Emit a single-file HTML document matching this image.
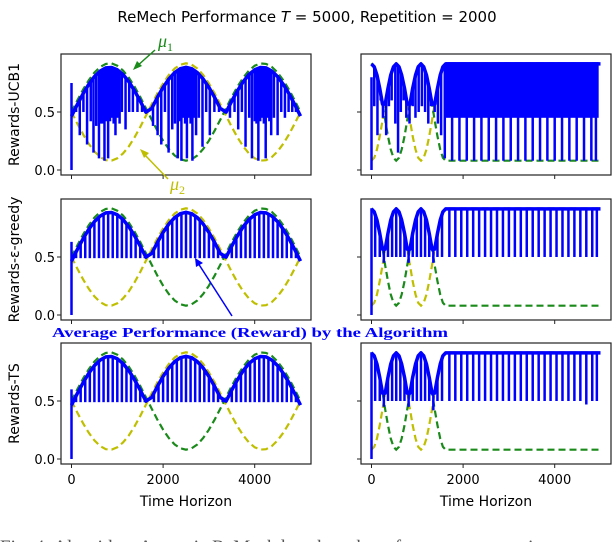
<!DOCTYPE html>
<html><head><meta charset="utf-8"><style>
body{margin:0;background:#fff;width:612px;height:542px;overflow:hidden}
svg{display:block}
.sans{font-family:"DejaVu Sans","Liberation Sans",sans-serif}
</style></head><body>
<svg id="chart" width="612" height="542" xmlns="http://www.w3.org/2000/svg">
<text class="sans" x="307" y="22" text-anchor="middle" font-size="15">ReMech Performance <tspan font-style="italic">T</tspan> = 5000, Repetition = 2000</text>
<g id="panels"></g>
<g>
<text x="158" y="47" font-size="18" fill="#1a8a1a" style="font-family:'Liberation Serif',serif;font-style:italic">μ<tspan font-size="12" dy="4" style="font-style:normal">1</tspan></text>
<line x1="155" y1="50" x2="136" y2="67" stroke="#1a8a1a" stroke-width="1.5"/>
<polygon points="133,70 137,61 142,66" fill="#1a8a1a"/>
</g>
<g>
<text x="170" y="190" font-size="18" fill="#bfbf00" style="font-family:'Liberation Serif',serif;font-style:italic">μ<tspan font-size="12" dy="4" style="font-style:normal">2</tspan></text>
<line x1="168" y1="179" x2="143" y2="153" stroke="#bfbf00" stroke-width="1.5"/>
<polygon points="140,149 149,153 144,158" fill="#bfbf00"/>
</g>
<g>
<line x1="232" y1="316" x2="198" y2="263" stroke="#0000ff" stroke-width="1.5"/>
<polygon points="195,258 203,263 196,267" fill="#0000ff"/>
<text x="52" y="337" font-size="14" fill="#0000ff" style="font-family:'Liberation Serif',serif;font-weight:bold" textLength="396" lengthAdjust="spacingAndGlyphs">Average Performance (Reward) by the Algorithm</text>
</g>
<text x="0" y="553" font-size="19" fill="#555" style="font-family:'Liberation Serif',serif">Fig. 4:   Algorithm-Agnostic ReMech benchmark performance comparison</text>
</svg>
<script>
const tLeft=[0,125,250,375,500,625,750,875,1000,1125,1250,1375,1500,1625,1750,1875,2000,2125,2250,2375,2500,2625,2750,2875,3000,3125,3250,3375,3500,3625,3750,3875,4000,4125,4250,4375,4500,4625,4750,4875,5000];
const mu1Left=[0.5,0.598,0.691,0.773,0.84,0.888,0.915,0.919,0.899,0.858,0.797,0.719,0.63,0.533,0.434,0.339,0.253,0.181,0.126,0.092,0.08,0.092,0.126,0.181,0.253,0.339,0.434,0.533,0.63,0.719,0.797,0.858,0.899,0.919,0.915,0.888,0.84,0.773,0.691,0.598,0.5];
const mu2Left=[0.5,0.402,0.309,0.227,0.16,0.112,0.085,0.081,0.101,0.142,0.203,0.281,0.37,0.467,0.566,0.661,0.747,0.819,0.874,0.908,0.92,0.908,0.874,0.819,0.747,0.661,0.566,0.467,0.37,0.281,0.203,0.142,0.101,0.081,0.085,0.112,0.16,0.227,0.309,0.402,0.5];
const tRight=[0,60,120,180,240,300,360,420,480,540,600,660,720,780,840,900,960,1020,1080,1140,1200,1260,1320,1380,1440,1500,1560,1620,5000];
const mu1Right=[0.92,0.895,0.822,0.71,0.573,0.427,0.29,0.178,0.105,0.08,0.105,0.178,0.29,0.427,0.573,0.71,0.822,0.895,0.92,0.895,0.822,0.71,0.573,0.427,0.29,0.178,0.105,0.08,0.08];
const mu2Right=[0.08,0.105,0.178,0.29,0.427,0.573,0.71,0.822,0.895,0.92,0.895,0.822,0.71,0.573,0.427,0.29,0.178,0.105,0.08,0.105,0.178,0.29,0.427,0.573,0.71,0.822,0.895,0.92,0.92];
const ucbLeftSpikeT=[0,100,180,260,340,420,480,540,600,640,680,720,760,800,840,880,920,960,1000,1050,1100,1180,1260,1340,1440,1540,1660,1780,1880,1960,2040,2120,2200,2260,2320,2360,2400,2440,2480,2520,2560,2600,2640,2680,2720,2780,2860,2940,3020,3120,3220,3340,3460,3560,3640,3720,3800,3880,3940,4000,4040,4080,4120,4160,4200,4240,4280,4320,4360,4420,4500,4580,4660,4740,4820,4900];
const ucbLeftSpikeLow=[0.0,0.5,0.3,0.5,0.22,0.42,0.15,0.38,0.1,0.4,0.4,0.08,0.42,0.1,0.42,0.45,0.4,0.3,0.45,0.4,0.5,0.35,0.5,0.5,0.5,0.5,0.5,0.38,0.3,0.22,0.5,0.15,0.35,0.4,0.1,0.42,0.08,0.45,0.4,0.1,0.45,0.4,0.08,0.45,0.3,0.45,0.2,0.5,0.3,0.5,0.5,0.5,0.45,0.5,0.35,0.5,0.2,0.45,0.1,0.42,0.4,0.08,0.42,0.45,0.4,0.1,0.45,0.42,0.3,0.45,0.3,0.5,0.45,0.5,0.5,0.5];
const egLeftSpikeT=[0,100,200,300,400,500,600,700,800,900,1000,1100,1200,1300,1400,1500,1600,1800,1900,2000,2100,2200,2300,2400,2500,2600,2700,2800,2900,3000,3100,3200,3300,3500,3600,3700,3800,3900,4000,4100,4200,4300,4400,4500,4600,4700,4800,4900];
const egLeftSpikeLow=[0.0,0.49,0.49,0.49,0.49,0.49,0.49,0.49,0.49,0.49,0.49,0.49,0.49,0.49,0.49,0.49,0.49,0.49,0.49,0.49,0.49,0.49,0.49,0.49,0.49,0.49,0.49,0.49,0.49,0.49,0.49,0.49,0.49,0.49,0.49,0.49,0.49,0.49,0.49,0.49,0.49,0.49,0.49,0.49,0.49,0.49,0.49,0.49];
const tsLeftSpikeT=egLeftSpikeT;
const tsLeftSpikeLow=egLeftSpikeLow;
const ucbRightSpikeT=[0,60,130,200,250,320,380,440,520,580,640,700,760,830,900,960,1030,1100,1170,1240,1300,1380,1450,1520,1600,1760,1920,2080,2240,2400,2560,2720,2880,3040,3200,3360,3520,3680,3840,4000,4160,4320,4480,4640,4800,4900];
const ucbRightSpikeLow=[0.0,0.55,0.3,0.6,0.45,0.3,0.55,0.6,0.4,0.15,0.5,0.6,0.45,0.4,0.55,0.45,0.5,0.55,0.5,0.4,0.55,0.5,0.4,0.3,0.1,0.08,0.08,0.08,0.08,0.08,0.08,0.08,0.08,0.08,0.08,0.08,0.08,0.08,0.08,0.08,0.08,0.08,0.08,0.08,0.08,0.08];
const ucbRightBand=[1620,4960,0.45,0.93];
const egRightSpikeT=[0,80,180,270,360,450,540,630,720,810,900,990,1080,1170,1260,1350,1440,1540,1700,1830,1960,2090,2220,2350,2480,2610,2740,2870,3000,3130,3260,3390,3520,3650,3780,3910,4040,4170,4300,4430,4560,4690,4820,4920];
const egRightSpikeLow=[0.0,0.5,0.5,0.45,0.5,0.5,0.5,0.5,0.5,0.45,0.5,0.5,0.5,0.5,0.5,0.45,0.5,0.5,0.5,0.5,0.5,0.5,0.5,0.5,0.5,0.5,0.5,0.5,0.5,0.5,0.5,0.5,0.5,0.5,0.5,0.5,0.5,0.5,0.5,0.5,0.5,0.5,0.5,0.5];
const tsRightSpikeT=egRightSpikeT;
const tsRightSpikeLow=[0.0,0.5,0.5,0.45,0.5,0.5,0.5,0.5,0.5,0.45,0.5,0.5,0.5,0.5,0.5,0.42,0.5,0.5,0.5,0.5,0.5,0.5,0.5,0.5,0.5,0.5,0.5,0.5,0.5,0.5,0.5,0.5,0.5,0.5,0.5,0.5,0.5,0.5,0.5,0.5,0.5,0.47,0.5,0.5];
const yTicks=[0.0,0.5];
const yTickLabels=["0.0","0.5"];
const xTicks=[0,2000,4000];
const xTickLabels=["0","2000","4000"];
const rowLabels=["Rewards-UCB1","Rewards-ε-greedy","Rewards-TS"];

const NS="http://www.w3.org/2000/svg";
const root=document.getElementById('panels');
const rowTops=[54,199,343], PH=121, colLefts=[61,361], PW=250;
function mk(tag,attrs,parent){const e=document.createElementNS(NS,tag);for(const k in attrs)e.setAttribute(k,attrs[k]);(parent||root).appendChild(e);return e;}
function xs(col,t){return colLefts[col]+10.5+t*0.0458;}
function ys(row,v){return rowTops[row]+(1.0-v)/1.043*PH;}
function interp(ts,vs,t){for(let i=1;i<ts.length;i++){if(t<=ts[i]){const f=(t-ts[i-1])/(ts[i]-ts[i-1]);return vs[i-1]+f*(vs[i]-vs[i-1]);}}return vs[vs.length-1];}
const panels=[
 {row:0,col:0,t:tLeft,m1:mu1Left,m2:mu2Left,st:ucbLeftSpikeT,sl:ucbLeftSpikeLow,top:0.75,off:0.035,name:'ucb1-left'},
 {row:0,col:1,t:tRight,m1:mu1Right,m2:mu2Right,st:ucbRightSpikeT,sl:ucbRightSpikeLow,top:0.8,off:0.005,band:ucbRightBand,name:'ucb1-right'},
 {row:1,col:0,t:tLeft,m1:mu1Left,m2:mu2Left,st:egLeftSpikeT,sl:egLeftSpikeLow,top:0.63,off:0.035,name:'egreedy-left'},
 {row:1,col:1,t:tRight,m1:mu1Right,m2:mu2Right,st:egRightSpikeT,sl:egRightSpikeLow,top:0.92,off:0.005,name:'egreedy-right'},
 {row:2,col:0,t:tLeft,m1:mu1Left,m2:mu2Left,st:tsLeftSpikeT,sl:tsLeftSpikeLow,top:0.6,off:0.035,name:'ts-left'},
 {row:2,col:1,t:tRight,m1:mu1Right,m2:mu2Right,st:tsRightSpikeT,sl:tsRightSpikeLow,top:0.92,off:0.005,name:'ts-right'}
];
panels.forEach(p=>{
 const g=mk('g',{});
 
 
 const x0=colLefts[p.col],y0=rowTops[p.row];
 const pts=(arr)=>p.t.map((t,i)=>xs(p.col,t).toFixed(1)+','+ys(p.row,arr[i]).toFixed(1)).join(' ');
 const l2=mk('polyline',{points:pts(p.m2),fill:'none',stroke:'#bfbf00','stroke-width':2.2,'stroke-dasharray':'7,4'},g);
 
 
 const l1=mk('polyline',{points:pts(p.m1),fill:'none',stroke:'#1a8a1a','stroke-width':2.2,'stroke-dasharray':'7,4'},g);
 
 
 const env=p.t.map((t,i)=>Math.max(p.m1[i],p.m2[i])-p.off);
 const bg=mk('g',{stroke:'#0000ff',fill:'none'},g);
 
 
 if(p.band){const r=mk('rect',{x:xs(p.col,p.band[0]),y:ys(p.row,p.band[3]),width:xs(p.col,p.band[1])-xs(p.col,p.band[0]),height:ys(p.row,p.band[2])-ys(p.row,p.band[3]),fill:'#0000ff',stroke:'none'},bg);
  
  }
 const e=mk('polyline',{points:pts(env),'stroke-width':3.5,'stroke-linejoin':'round'},bg);
 
 
 p.st.forEach((t,i)=>{
  const hi= i===0 ? p.top : interp(p.t,env,t)+0.01;
  const s=mk('line',{x1:xs(p.col,t),x2:xs(p.col,t),y1:ys(p.row,hi),y2:ys(p.row,p.sl[i]),'stroke-width':2.5},bg);
  
  
 });
 const fr=mk('rect',{x:x0,y:y0,width:PW,height:PH,fill:'none',stroke:'#222','stroke-width':1.2},g);
 
 
 yTicks.forEach((v,i)=>{
  mk('line',{x1:x0-4,x2:x0,y1:ys(p.row,v),y2:ys(p.row,v),stroke:'#222','stroke-width':1},g);
  if(p.col===0){const tx=mk('text',{class:'sans',x:x0-6,y:ys(p.row,v)+5,'text-anchor':'end','font-size':13},g);tx.textContent=yTickLabels[i];
   
   }
 });
 xTicks.forEach((t,i)=>{
  mk('line',{x1:xs(p.col,t),x2:xs(p.col,t),y1:y0+PH,y2:y0+PH+4,stroke:'#222','stroke-width':1},g);
  if(p.row===2){const tx=mk('text',{class:'sans',x:xs(p.col,t),y:y0+PH+20,'text-anchor':'middle','font-size':13},g);tx.textContent=xTickLabels[i];
   
   }
 });
 if(p.row===2){const xl=mk('text',{class:'sans',x:x0+PW/2,y:y0+PH+42,'text-anchor':'middle','font-size':14},g);xl.textContent='Time Horizon';
  
  }
 if(p.col===0){const cy=y0+PH/2;const yl=mk('text',{class:'sans',x:0,y:0,'text-anchor':'middle','font-size':14,transform:`translate(19,${cy}) rotate(-90)`},g);yl.textContent=rowLabels[p.row];
  
  }
});
</script>
</body></html>
